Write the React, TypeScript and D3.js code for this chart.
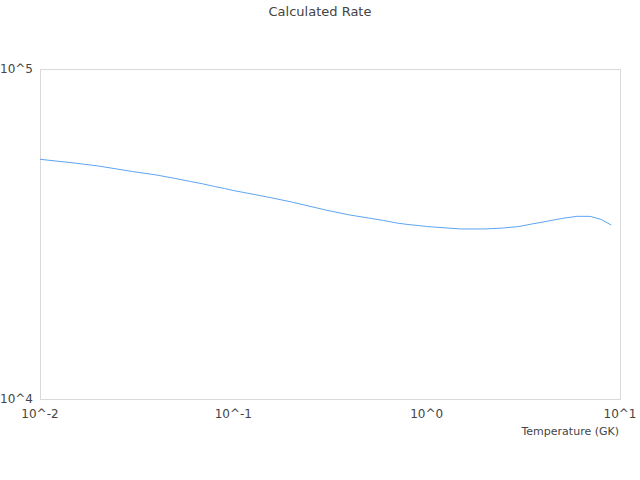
import React, {useEffect, useRef} from 'react'
import * as d3 from 'd3'

// temperature grid (GK) and rate values
const temperatures = [0.01, 0.015, 0.02, 0.03, 0.04, 0.05, 0.06, 0.07, 0.08, 0.09, 0.1, 0.15, 0.2, 0.3, 0.4, 0.5, 0.6, 0.7, 0.8, 0.9, 1, 1.5, 2, 2.5, 3, 3.5, 4, 5, 6, 7, 8, 9]
const rates = [53260, 51900, 50830, 48920, 47740, 46590, 45620, 44830, 44050, 43440, 42840, 40940, 39540, 37390, 36110, 35360, 34750, 34140, 33790, 33560, 33320, 32750, 32750, 32980, 33320, 33910, 34390, 35240, 35780, 35760, 34990, 33670]
const xTicks = [0.01, 0.1, 1, 10]
const xTickLabels = ['10^-2', '10^-1', '10^0', '10^1']
const yTicks = [1e4, 1e5]
const yTickLabels = ['10^4', '10^5']

const W = 640, H = 480
const margin = {top: 69, right: 20, bottom: 81, left: 40}
const font = 'DejaVu Sans, sans-serif'
const textColor = '#444'

export default function App() {
  const ref = useRef<SVGSVGElement>(null)

  useEffect(() => {
    const svg = d3.select(ref.current)
    svg.selectAll('*').remove()

    const x = d3.scaleLog().domain([0.01, 10]).range([margin.left, W - margin.right])
    const y = d3.scaleLog().domain([1e4, 1e5]).range([H - margin.bottom, margin.top])

    svg.append('rect').attr('width', W).attr('height', H).attr('fill', 'white')

    // title
    svg.append('text')
      .attr('x', W / 2).attr('y', 16)
      .attr('text-anchor', 'middle')
      .attr('font-family', font).attr('font-size', 13)
      .attr('fill', textColor)
      .text('Calculated Rate')

    // plot frame
    svg.append('rect')
      .attr('x', x(0.01) + 0.5).attr('y', y(1e5) + 0.5)
      .attr('width', x(10) - x(0.01)).attr('height', y(1e4) - y(1e5))
      .attr('fill', 'none').attr('stroke', '#d9d9d9')

    // y tick labels
    svg.selectAll('.ylab').data(yTicks).enter().append('text')
      .attr('x', margin.left - 7)
      .attr('y', d => y(d) + 4)
      .attr('text-anchor', 'end')
      .attr('font-family', font).attr('font-size', 12)
      .attr('fill', textColor)
      .text((d, i) => yTickLabels[i])

    // x tick labels
    svg.selectAll('.xlab').data(xTicks).enter().append('text')
      .attr('x', d => x(d))
      .attr('y', y(1e4) + 19)
      .attr('text-anchor', 'middle')
      .attr('font-family', font).attr('font-size', 12)
      .attr('fill', textColor)
      .text((d, i) => xTickLabels[i])

    // x axis title
    svg.append('text')
      .attr('x', x(10) - 1).attr('y', y(1e4) + 36)
      .attr('text-anchor', 'end')
      .attr('font-family', font).attr('font-size', 11)
      .attr('fill', textColor)
      .text('Temperature (GK)')

    const line = d3.line<number>()
      .x((d, i) => x(temperatures[i]))
      .y(d => y(d))

    svg.append('path')
      .datum(rates)
      .attr('d', line)
      .attr('fill', 'none')
      .attr('stroke', '#5ea5f2')
      .attr('stroke-width', 1)
  }, [])

  return <svg ref={ref} width={W} height={H} style={{position: 'absolute', left: 0, top: 0}} />
}
